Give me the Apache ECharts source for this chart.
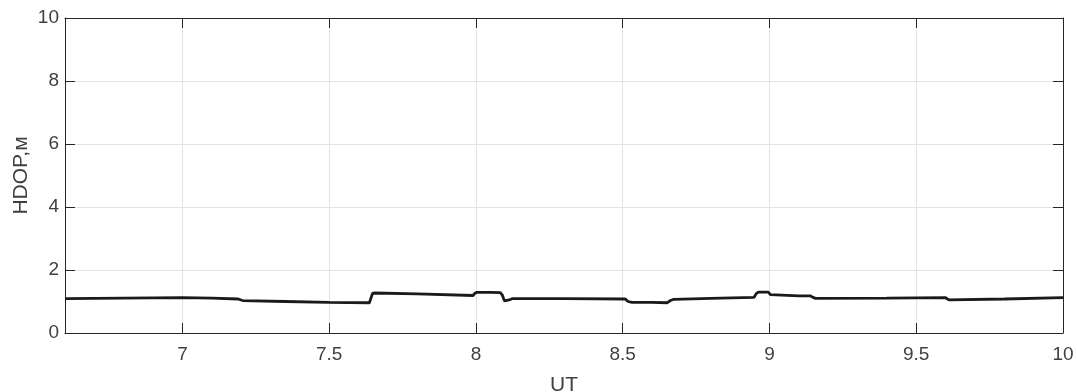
<!DOCTYPE html>
<html>
<head>
<meta charset="utf-8">
<script src="https://cdn.jsdelivr.net/npm/echarts@6/dist/echarts.min.js"></script>
<style>
  html, body { margin: 0; padding: 0; background: #fff; }
  #chart { width: 1077px; height: 392px; }
</style>
</head>
<body>
<div id="chart"></div>
<script>
// UT hours and HDOP values
const utTimes = [6.6, 6.8, 7.0, 7.1, 7.19, 7.205, 7.35, 7.5, 7.637, 7.642, 7.648, 7.655, 7.8, 7.99, 7.996, 8.003, 8.05, 8.083, 8.09, 8.097, 8.103, 8.113, 8.123, 8.3, 8.509, 8.518, 8.532, 8.6, 8.651, 8.663, 8.674, 8.8, 8.947, 8.955, 8.962, 8.996, 9.003, 9.009, 9.1, 9.14, 9.148, 9.157, 9.4, 9.6, 9.605, 9.611, 9.8, 10.0];
const hdopValues = [1.09, 1.11, 1.12, 1.11, 1.08, 1.03, 1.0, 0.97, 0.96, 1.1, 1.26, 1.27, 1.24, 1.19, 1.26, 1.29, 1.29, 1.28, 1.2, 1.02, 0.97, 1.05, 1.09, 1.09, 1.08, 1.0, 0.97, 0.97, 0.96, 1.03, 1.07, 1.1, 1.13, 1.25, 1.30, 1.30, 1.22, 1.18, 1.18, 1.18, 1.13, 1.10, 1.11, 1.12, 1.08, 1.05, 1.08, 1.12];
const xTicks = [7, 7.5, 8, 8.5, 9, 9.5, 10];

const axisColor = '#262626';
const gridColor = '#e3e3e3';
const fontFamily = 'Liberation Sans, Arial, sans-serif';
const tickFont = { color: '#404040', fontSize: 19, fontFamily: fontFamily };
const nameFont = { color: '#404040', fontSize: 21, fontFamily: fontFamily };

const chart = echarts.init(document.getElementById('chart'));

const baseX = {
  type: 'value',
  min: 6.6,
  max: 10,
  axisLine: { show: true, onZero: false, lineStyle: { color: axisColor, width: 1 } },
  axisTick: { show: true, inside: true, length: 10, customValues: xTicks, lineStyle: { color: axisColor } }
};
const baseY = {
  type: 'value',
  min: 0,
  max: 10,
  interval: 2,
  axisLine: { show: true, onZero: false, lineStyle: { color: axisColor, width: 1 } },
  axisTick: { show: true, inside: true, length: 10, lineStyle: { color: axisColor } }
};

chart.setOption({
  animation: false,
  grid: { left: 65, right: 14, top: 18, bottom: 59, containLabel: false, outerBoundsMode: 'none' },
  xAxis: [
    Object.assign({}, baseX, {
      position: 'bottom',
      name: 'UT',
      nameLocation: 'middle',
      nameGap: 42,
      nameMoveOverlap: false,
      nameTextStyle: nameFont,
      axisLabel: Object.assign({ margin: 12, customValues: xTicks }, tickFont),
      splitLine: { show: true, lineStyle: { color: gridColor, width: 1 } }
    }),
    Object.assign({}, baseX, {
      position: 'top',
      axisLabel: { show: false },
      splitLine: { show: false }
    })
  ],
  yAxis: [
    Object.assign({}, baseY, {
      position: 'left',
      name: 'HDOP,м',
      nameLocation: 'middle',
      nameGap: 33,
      nameMoveOverlap: false,
      nameTextStyle: nameFont,
      axisLabel: Object.assign({ margin: 6 }, tickFont),
      splitLine: { show: true, lineStyle: { color: gridColor, width: 1 } }
    }),
    Object.assign({}, baseY, {
      position: 'right',
      axisLabel: { show: false },
      splitLine: { show: false }
    })
  ],
  series: [{
    type: 'line',
    data: utTimes.map((t, i) => [t, hdopValues[i]]),
    showSymbol: false,
    lineStyle: { color: '#1a1a1a', width: 2.8 },
    z: 5
  }]
});
</script>
</body>
</html>
